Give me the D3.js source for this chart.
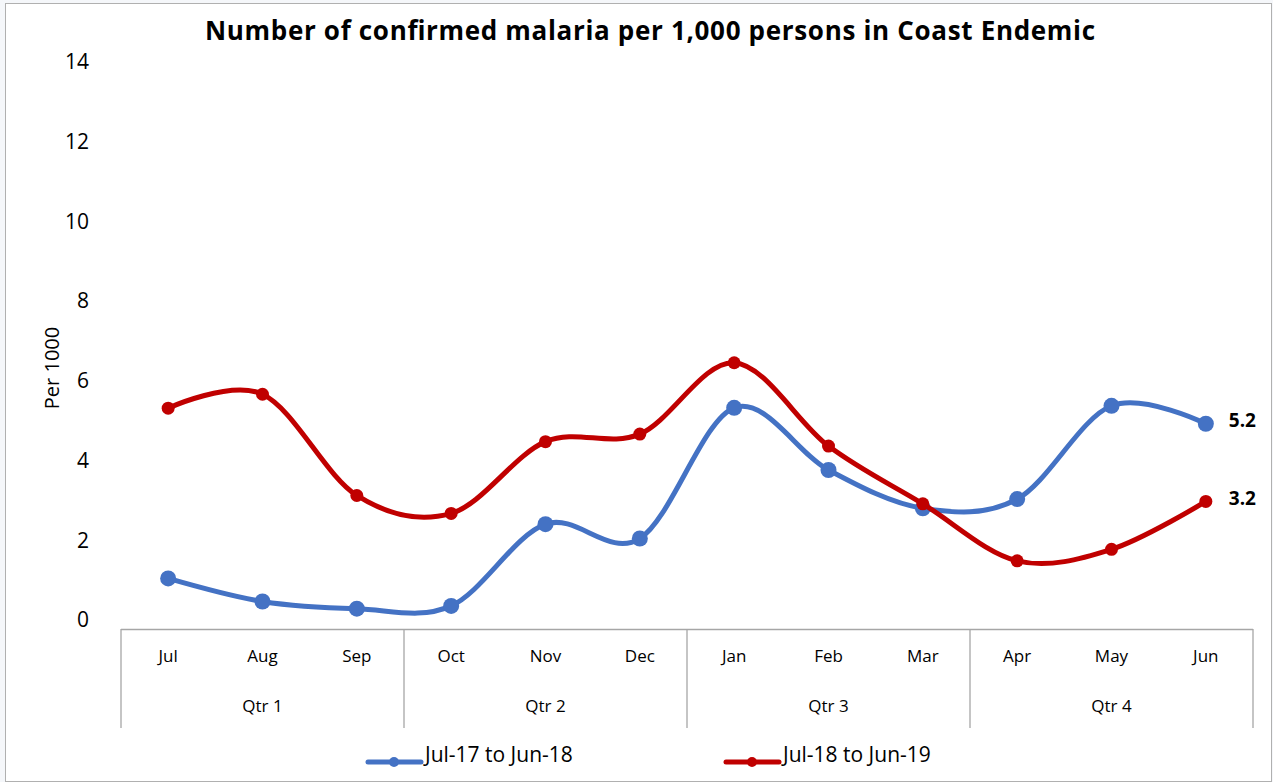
<!DOCTYPE html>
<html>
<head>
<meta charset="utf-8">
<script src="https://cdn.jsdelivr.net/npm/d3@7"></script>
<style>
body{margin:0;background:#f5f7fa;}
svg{display:block;font-family:"Open Sans","Noto Sans",sans-serif;}
</style>
</head>
<body>
<div id="chart"></div>
<script>
// data
const months = ["Jul","Aug","Sep","Oct","Nov","Dec","Jan","Feb","Mar","Apr","May","Jun"];
const quarters = ["Qtr 1","Qtr 2","Qtr 3","Qtr 4"];
const series1 = [1.27,0.69,0.51,0.58,2.63,2.27,5.55,3.99,3.03,3.26,5.60,5.15];
const series2 = [5.54,5.89,3.35,2.90,4.70,4.89,6.68,4.59,3.14,1.71,2.00,3.20];
const seriesNames = ["Jul-17 to Jun-18","Jul-18 to Jun-19"];
const endLabels = ["5.2","3.2"];
const yTicks = [0,2,4,6,8,10,12,14];

const W=1273,H=782;
const colors=["#4472C4","#C00000"];
const svg=d3.select("#chart").append("svg").attr("width",W).attr("height",H);

svg.append("rect").attr("x",5.5).attr("y",3.5).attr("width",1266).attr("height",778)
  .attr("fill","#fff").attr("stroke","#b0b0b0");

// title
svg.append("text").attr("x",650).attr("y",40).attr("text-anchor","middle")
  .attr("font-size",26).attr("font-weight","bold").attr("fill","#000")
  .attr("textLength",890).attr("lengthAdjust","spacing")
  .text("Number of confirmed malaria per 1,000 persons in Coast Endemic");

/*scales*/
const x=d3.scaleBand().domain(months).range([121,1253]);
const y=d3.scaleLinear().domain([0,14]).range([629,71]);
const cx=d=>x(d)+x.bandwidth()/2;

// y labels (Excel draws them a bit above the tick)
svg.append("g").selectAll("text").data(yTicks).enter().append("text")
  .attr("x",89).attr("y",d=>y(d)-9).attr("dy","0.35em").attr("text-anchor","end")
  .attr("font-size",21).attr("fill","#000").text(d=>d);

svg.append("text").attr("transform","translate(59,368) rotate(-90)")
  .attr("text-anchor","middle").attr("font-size",20).text("Per 1000");

// category axis
const ax=svg.append("g");
ax.append("line").attr("x1",121).attr("x2",1253).attr("y1",629.5).attr("y2",629.5)
  .attr("stroke","#a6a6a6").attr("stroke-width",1.3);
const qEdges=d3.range(0,13,3).map(i=> i<12 ? x(months[i]) : x(months[11])+x.bandwidth());
ax.selectAll("line.q").data(qEdges).enter().append("line").attr("class","q")
  .attr("x1",d=>d).attr("x2",d=>d).attr("y1",629).attr("y2",728)
  .attr("stroke","#a6a6a6").attr("stroke-width",1.3);
ax.selectAll("text.m").data(months).enter().append("text").attr("class","m")
  .attr("x",cx).attr("y",656).attr("dy","0.35em").attr("text-anchor","middle")
  .attr("font-size",17).text(d=>d);
ax.selectAll("text.qt").data(quarters).enter().append("text").attr("class","qt")
  .attr("x",(d,i)=>(qEdges[i]+qEdges[i+1])/2).attr("y",706).attr("dy","0.35em")
  .attr("text-anchor","middle").attr("font-size",17).text(d=>d);

// lines
const line=d3.line().x((d,i)=>cx(months[i])).y(d=>y(d)).curve(d3.curveCardinal.tension(0));
[series1,series2].forEach((s,k)=>{
  svg.append("path").datum(s).attr("d",line).attr("fill","none")
    .attr("stroke",colors[k]).attr("stroke-width",5).attr("stroke-linecap","round");
  svg.append("g").selectAll("circle").data(s).enter().append("circle")
    .attr("cx",(d,i)=>cx(months[i])).attr("cy",d=>y(d)).attr("r",k==0?8:6.5)
    .attr("fill",colors[k]);
  svg.append("text").attr("x",cx(months[11])+23).attr("y",y(s[11])-3).attr("dy","0.35em")
    .attr("font-size",19).attr("font-weight","bold").text(endLabels[k]);
});

// legend
const legX=[366,724];
seriesNames.forEach((n,k)=>{
  const g=svg.append("g").attr("transform","translate("+legX[k]+",762)");
  g.append("line").attr("x1",2).attr("x2",55).attr("stroke",colors[k]).attr("stroke-width",5)
    .attr("stroke-linecap","round");
  g.append("circle").attr("cx",28).attr("r",5).attr("fill",colors[k]);
  g.append("text").attr("x",59).attr("y",0).attr("font-size",21).text(n);
});
</script>
</body>
</html>
